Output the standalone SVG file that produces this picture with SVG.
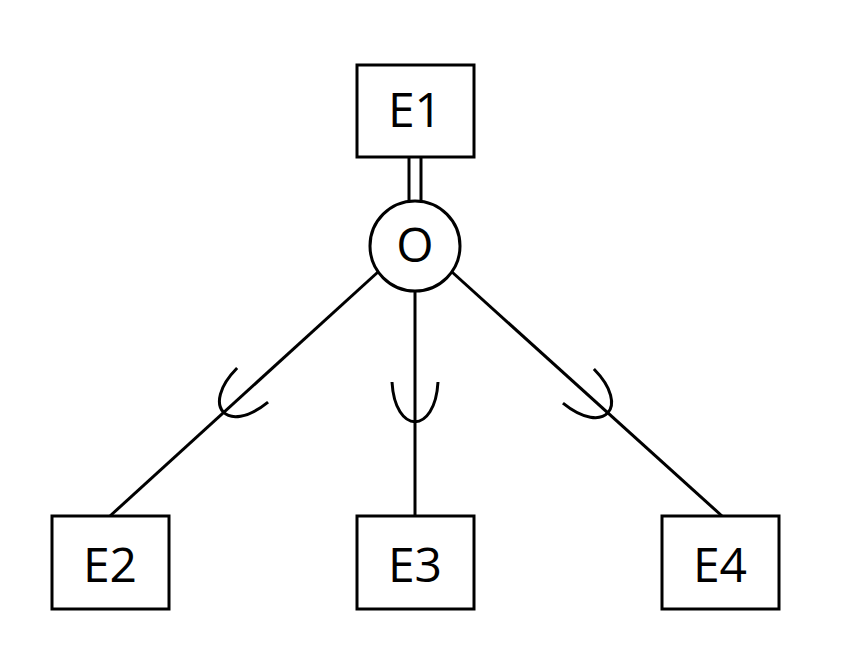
<svg xmlns="http://www.w3.org/2000/svg" width="841" height="656" viewBox="0 0 841 656">
<style>
.box{fill:#fff;stroke:#000;stroke-width:3}
.ln{fill:none;stroke:#000;stroke-width:3}
.lbl{font-family:"Open Sans","Liberation Sans",sans-serif;font-size:48px;fill:#000;text-anchor:middle}
</style>
<defs>
<path id="sub" d="M-23,-40 C-20,13 20,13 23,-40" class="ln"/>
</defs>
<rect width="841" height="656" fill="#fff"/>
<g id="connectors">
<line class="ln" x1="409" y1="157" x2="409" y2="202"/>
<line class="ln" x1="421" y1="157" x2="421" y2="202"/>
<line class="ln" x1="378" y1="272" x2="110" y2="516"/>
<line class="ln" x1="415" y1="292" x2="415" y2="516"/>
<line class="ln" x1="452" y1="272" x2="722" y2="516"/>
<use href="#sub" transform="translate(223,412) rotate(47.7)"/>
<use href="#sub" transform="translate(415,422)"/>
<use href="#sub" transform="translate(608,413) rotate(-47.7)"/>
</g>
<g id="E1">
<rect class="box" x="357" y="65" width="117" height="92"/>
<text class="lbl" x="415" y="127">E1</text>
</g>
<g id="O">
<circle class="box" cx="415" cy="246" r="45"/>
<text class="lbl" x="415" y="262">O</text>
</g>
<g id="E2">
<rect class="box" x="52" y="516" width="117" height="93"/>
<text class="lbl" x="110" y="582">E2</text>
</g>
<g id="E3">
<rect class="box" x="357" y="516" width="117" height="93"/>
<text class="lbl" x="415" y="582">E3</text>
</g>
<g id="E4">
<rect class="box" x="662" y="516" width="117" height="93"/>
<text class="lbl" x="720" y="582">E4</text>
</g>
</svg>
